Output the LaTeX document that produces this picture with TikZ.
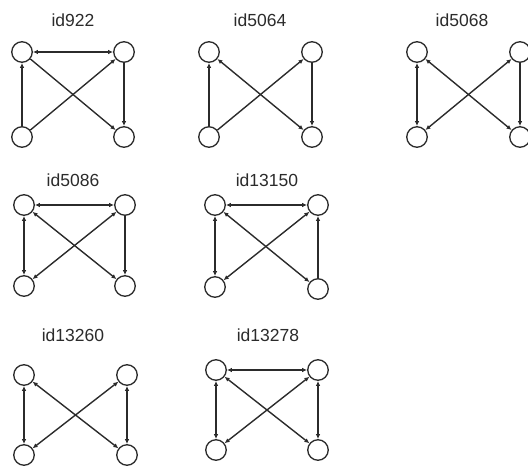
\documentclass[tikz,border=0pt]{standalone}
\usepackage{fontspec}
\setmainfont{Liberation Sans}
\usetikzlibrary{arrows.meta}
\definecolor{ink}{HTML}{2B2B2B}
\tikzset{
  vtx/.style={circle, draw=ink, line width=1.3pt, minimum size=20.5pt, inner sep=0pt},
  lbl/.style={font=\fontsize{17.5}{17.5}\selectfont, text=ink},
  uni/.style={draw=ink, line width=1.4pt, -{Latex[length=5pt,width=4.5pt]}},
  bi/.style={draw=ink, line width=1.4pt, {Latex[length=5pt,width=4.5pt]}-{Latex[length=5pt,width=4.5pt]}},
}
\begin{document}
\begin{tikzpicture}[x=1pt, y=-1pt]
\useasboundingbox (0,0) rectangle (528,468);
\clip (0,0) rectangle (528,468);

% id922
\node[lbl] (l1) at (73,20) {id922};
\node[vtx] (a1) at (22,52) {};
\node[vtx] (b1) at (124,52) {};
\node[vtx] (c1) at (22,137) {};
\node[vtx] (d1) at (124,137) {};
\draw[bi] (a1) -- (b1);
\draw[uni] (c1) -- (a1);
\draw[uni] (c1) -- (b1);
\draw[uni] (a1) -- (d1);
\draw[uni] (b1) -- (d1);

% id5064
\node[lbl] (l2) at (260,20) {id5064};
\node[vtx] (a2) at (209,52) {};
\node[vtx] (b2) at (312,52) {};
\node[vtx] (c2) at (209,137) {};
\node[vtx] (d2) at (312,137) {};
\draw[uni] (c2) -- (a2);
\draw[uni] (c2) -- (b2);
\draw[bi] (a2) -- (d2);
\draw[uni] (b2) -- (d2);

% id5068
\node[lbl] (l3) at (462,20) {id5068};
\node[vtx] (a3) at (417,52) {};
\node[vtx] (b3) at (520,52) {};
\node[vtx] (c3) at (417,137) {};
\node[vtx] (d3) at (520,137) {};
\draw[bi] (a3) -- (c3);
\draw[bi] (a3) -- (d3);
\draw[bi] (c3) -- (b3);
\draw[uni] (b3) -- (d3);

% id5086
\node[lbl] (l4) at (73,180) {id5086};
\node[vtx] (a4) at (24,205) {};
\node[vtx] (b4) at (125,205) {};
\node[vtx] (c4) at (24,286) {};
\node[vtx] (d4) at (125,286) {};
\draw[bi] (a4) -- (b4);
\draw[bi] (a4) -- (c4);
\draw[bi] (a4) -- (d4);
\draw[bi] (c4) -- (b4);
\draw[uni] (b4) -- (d4);

% id13150
\node[lbl] (l5) at (267,180) {id13150};
\node[vtx] (a5) at (215,205) {};
\node[vtx] (b5) at (318,205) {};
\node[vtx] (c5) at (215,287) {};
\node[vtx] (d5) at (318,289) {};
\draw[bi] (a5) -- (b5);
\draw[bi] (a5) -- (c5);
\draw[bi] (a5) -- (d5);
\draw[bi] (c5) -- (b5);
\draw[uni] (d5) -- (b5);

% id13260
\node[lbl] (l6) at (73,335) {id13260};
\node[vtx] (a6) at (24,375) {};
\node[vtx] (b6) at (127,375) {};
\node[vtx] (c6) at (24,455) {};
\node[vtx] (d6) at (127,455) {};
\draw[bi] (a6) -- (c6);
\draw[bi] (a6) -- (d6);
\draw[bi] (c6) -- (b6);
\draw[bi] (b6) -- (d6);

% id13278
\node[lbl] (l7) at (268,335) {id13278};
\node[vtx] (a7) at (216,370) {};
\node[vtx] (b7) at (318,370) {};
\node[vtx] (c7) at (216,450) {};
\node[vtx] (d7) at (318,450) {};
\draw[bi] (a7) -- (b7);
\draw[bi] (a7) -- (c7);
\draw[bi] (a7) -- (d7);
\draw[bi] (c7) -- (b7);
\draw[bi] (b7) -- (d7);
\end{tikzpicture}
\end{document}
